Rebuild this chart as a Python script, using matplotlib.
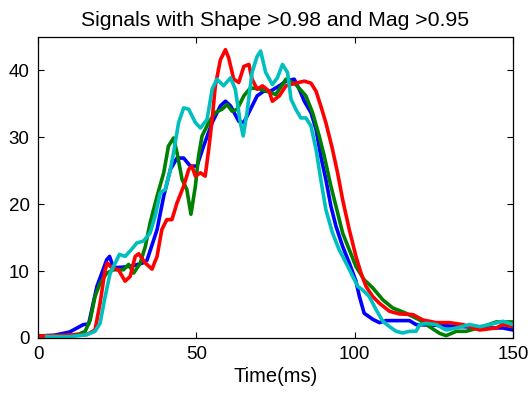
import matplotlib
matplotlib.use("Agg")
import matplotlib.pyplot as plt

plt.rcParams['font.family'] = ['Liberation Sans', 'DejaVu Sans']

# ---- data ----
blue_t = [0, 5, 10, 14.3, 16, 18.6, 21.7, 22.6, 23.8, 27, 30, 33, 34.4, 37.6, 39.7, 41.8, 43.9, 46, 48.1,
          50.2, 52.3, 55, 57.6, 59.2, 60.8, 63.4, 65, 67.1, 69.2, 71.3, 73.4, 76.2, 78.3, 80.9, 82.5,
          84.1, 86.2, 87.8, 89.3, 90.9, 92.5, 94.1, 96.2, 98.3, 100.4, 101.5, 103, 105.7, 107.8, 109.9,
          117.3, 119.4, 125.7, 134.2, 140.5, 146.8, 150]
blue_v = [0.3, 0.4, 0.9, 2.0, 2.1, 7.7, 11.7, 12.2, 10.5, 10.6, 10.8, 11.2, 11.6, 16.2, 21.2, 25.2, 26.9,
          26.9, 25.7, 25.7, 28.7, 32.2, 34.7, 35.4, 34.7, 32.4, 32.2, 34.2, 36.2, 36.9, 36.9, 37.7,
          38.4, 38.7, 37.2, 35.4, 33.7, 31.2, 27.2, 23.7, 19.7, 16.7, 13.7, 11.2, 8.5, 6.2, 3.7, 2.8,
          2.3, 2.6, 2.6, 2.0, 1.9, 1.7, 1.5, 1.5, 1.2]

green_t = [1.5, 8, 13, 14.9, 16.5, 18, 19.6, 21.7, 23.8, 27, 28.6, 30.2, 32.3, 33.9, 35.4, 37.6, 39.7,
           41.2, 42.8, 43.9, 45.5, 47, 48.3, 49.7, 50.7, 51.8, 53.9, 56, 58.1, 59.7, 61.3, 62.9, 65,
           67.1, 70.3, 73.4, 75.1, 78.3, 81.4, 84.6, 86.7, 88.8, 90.4, 92.5, 94.1, 96.2, 98.3, 100.4,
           103, 105.7, 108.9, 112, 116.2, 120.5, 123.6, 126.8, 128.9, 132.1, 135.2, 140.5, 144.7, 150]
green_v = [0.3, 0.3, 0.6, 1.0, 2.7, 6.2, 8.2, 9.7, 10.2, 10.2, 11.0, 9.7, 11.2, 13.7, 17.2, 21.2, 24.7,
           28.7, 29.9, 27.7, 23.7, 22.2, 18.5, 22.7, 27.2, 30.2, 32.2, 33.7, 34.2, 34.9, 33.9, 34.2,
           36.2, 37.4, 37.2, 36.7, 36.4, 38.7, 37.9, 36.2, 33.7, 30.2, 27.2, 22.7, 19.7, 15.7, 13.2,
           10.7, 8.7, 7.5, 5.7, 4.5, 3.7, 2.7, 1.7, 0.7, 0.35, 1.0, 1.0, 1.7, 2.4, 2.4]

red_t = [0, 8, 15.4, 18, 19.6, 21.2, 21.9, 23.3, 25.4, 27.5, 29.1, 30.7, 31.8, 33.9, 36, 37.6, 39.1,
         40.7, 42.3, 43.9, 46, 47.6, 48.6, 49.7, 51.3, 52.8, 53.9, 55, 56, 57.6, 59.2, 60.2, 61.8,
         63.4, 65, 66.6, 67.6, 69.2, 70.9, 73, 74, 76.2, 78.3, 81.4, 84.1, 86.2, 87.8, 89.3, 90.9,
         93, 94.6, 96.2, 98.3, 100.4, 102, 103.6, 105.7, 107.8, 111, 114.1, 118.4, 121.5, 125.7,
         129.9, 134.2, 139.5, 144.7, 146.8, 150]
red_v = [0.3, 0.4, 0.5, 1.2, 5.2, 10.2, 11.2, 10.5, 10.2, 8.5, 9.2, 12.2, 12.6, 11.2, 10.3, 12.2, 16.2,
         17.7, 17.7, 20.2, 22.7, 25.2, 25.7, 24.2, 24.7, 24.2, 28.2, 32.7, 37.7, 41.6, 43.1, 41.9,
         38.7, 38.2, 40.6, 40.9, 38.7, 37.2, 37.7, 36.9, 35.4, 36.2, 37.7, 38.1, 38.4, 38.1, 36.9,
         34.7, 32.2, 28.2, 24.7, 20.7, 16.2, 12.2, 9.7, 7.7, 6.2, 5.2, 4.0, 3.6, 3.5, 2.7, 2.3,
         2.3, 2.0, 1.2, 1.5, 2.0, 1.7]

cyan_t = [2.7, 10, 15.4, 18, 19.6, 21.2, 22.8, 24.4, 25.7, 27.5, 29.1, 31.2, 33.3, 35.4, 37, 38.6,
          40.2, 41.8, 42.8, 44.4, 46, 47.6, 49.7, 51.3, 53.4, 55, 56.5, 58.6, 60.8, 62.3, 63.9, 64.8,
          66, 67.6, 69.2, 70.3, 71.9, 74, 75.6, 77.2, 78.8, 79.9, 81.4, 83, 84.6, 86.2, 87.8, 89.3,
          90.9, 93, 95.1, 97.3, 99.4, 101, 102.5, 104.6, 106.8, 108.9, 111, 113.1, 115.2, 117.3,
          119.4, 120.5, 122.6, 125.7, 128.9, 132.1, 136.3, 139.5, 142.6, 146.8, 150]
cyan_v = [0.2, 0.2, 0.5, 1.0, 2.2, 6.2, 9.7, 11.2, 12.5, 12.2, 13.0, 14.2, 14.5, 15.7, 18.2, 21.7,
          22.2, 25.2, 27.7, 32.2, 34.4, 34.2, 32.2, 31.4, 32.7, 37.2, 38.7, 37.7, 38.9, 37.2, 32.2,
          30.2, 33.7, 39.7, 42.1, 42.9, 39.7, 37.9, 38.9, 40.9, 39.7, 35.7, 34.2, 32.9, 32.9, 31.7,
          28.2, 23.7, 19.2, 15.7, 13.2, 11.2, 9.2, 7.7, 7.2, 6.2, 4.2, 2.5, 1.7, 1.0, 0.75, 1.0,
          1.0, 2.0, 2.2, 2.0, 1.2, 1.5, 2.0, 1.7, 2.0, 2.5, 2.0]

x_ticks = [0, 50, 100, 150]
y_ticks = [0, 10, 20, 30, 40]

# ---- figure ----
fig = plt.figure(figsize=(5.32, 4.0), dpi=100)
ax = fig.add_axes([38 / 532, 62 / 400, 475 / 532, 301 / 400])

lw = 2.6
ax.plot(blue_t, blue_v, color=(0, 0, 1), lw=lw, solid_joinstyle='round')
ax.plot(green_t, green_v, color=(0, 0.5, 0), lw=lw, solid_joinstyle='round')
ax.plot(red_t, red_v, color=(1, 0, 0), lw=lw, solid_joinstyle='round')
ax.plot(cyan_t, cyan_v, color=(0, 0.75, 0.75), lw=lw, solid_joinstyle='round')

ax.set_xlim(0, 150)
ax.set_ylim(0, 45)
ax.set_xticks(x_ticks)
ax.set_yticks(y_ticks)
ax.tick_params(direction='in', top=True, right=True, labelsize=13.5, length=4, width=0.8)
ax.tick_params(axis='x', pad=6)
ax.tick_params(axis='y', pad=6)
for s in ax.spines.values():
    s.set_linewidth(0.9)
ax.set_xlabel('Time(ms)', fontsize=14.5, labelpad=3)
ax.set_title('Signals with Shape >0.98 and Mag >0.95', fontsize=15.3, pad=8)

fig.savefig('out.png', dpi=100)
